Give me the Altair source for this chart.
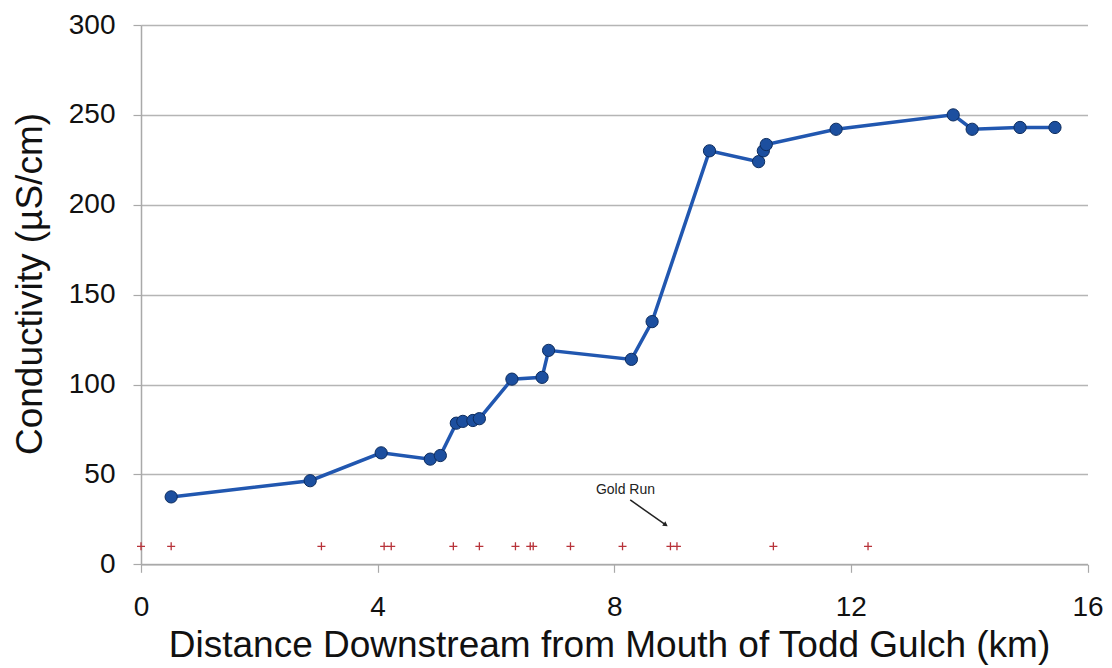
import altair as alt
import pandas as pd

# Conductivity profile (blue line with markers)
dist_km = [0.51, 2.86, 4.06, 4.89, 5.06, 5.33, 5.44, 5.61, 5.72, 6.27, 6.78, 6.89,
           8.29, 8.64, 9.61, 10.44, 10.52, 10.57, 11.75, 13.73, 14.05, 14.86, 15.45]
conductivity = [37.5, 46.5, 62, 58.5, 60.5, 78.5, 79.5, 80, 81, 103, 104, 119,
                114, 135, 230, 224, 230, 233.5, 242, 250, 242, 243, 243]

# Sampling sites (red plus markers)
site_km = [0.0, 0.51, 3.05, 4.11, 4.23, 5.28, 5.72, 6.33, 6.58, 6.63, 7.26, 8.14,
           8.95, 9.06, 10.69, 12.29]
site_level = [10, 10, 10, 10, 10, 10, 10, 10, 10, 10, 10, 10, 10, 10, 10, 10]

# Annotation
note_text = ["Gold Run"]
note_x = [8.19]
note_y = [41.3]
arrow_x = [8.27]
arrow_y = [35.8]
arrow_x2 = [8.87]
arrow_y2 = [21.9]

x_ticks = [0, 4, 8, 12, 16]
y_ticks = [0, 50, 100, 150, 200, 250, 300]

FONT = "Liberation Sans"
GRAY = "#a9a9a9"

profile = pd.DataFrame({"x": dist_km, "y": conductivity})
sites = pd.DataFrame({"x": site_km, "y": site_level})
note = pd.DataFrame({"x": note_x, "y": note_y, "t": note_text})
arrow = pd.DataFrame({"x": arrow_x, "y": arrow_y, "x2": arrow_x2, "y2": arrow_y2})
head = pd.DataFrame({"x": arrow_x2, "y": arrow_y2})

x_enc = alt.X(
    "x:Q",
    scale=alt.Scale(domain=[0, 16], nice=False, zero=False),
    axis=alt.Axis(
        values=x_ticks, grid=False, tickSize=8, tickColor=GRAY, tickWidth=1.2,
        domainColor=GRAY, domainWidth=1.5,
        labelFontSize=28, labelFont=FONT, labelColor="#111111", labelPadding=21,
        labelFlush=False,
        title="Distance Downstream from Mouth of Todd Gulch (km)",
        titleFont=FONT, titleFontSize=37, titleFontWeight="normal", titleColor="#111111",
        titleX=468, titleY=92.4, titleBaseline="alphabetic", titleAlign="center",
    ),
)
y_enc = alt.Y(
    "y:Q",
    scale=alt.Scale(domain=[0, 300], nice=False),
    axis=alt.Axis(
        values=y_ticks, grid=True, gridColor="#b5b5b5", gridWidth=1.5,
        tickSize=8, tickColor=GRAY, tickWidth=1.2,
        domainColor=GRAY, domainWidth=1.5,
        labelFontSize=28, labelFont=FONT, labelColor="#111111", labelPadding=18,
        labelFlush=False,
        title="Conductivity (µS/cm)",
        titleFont=FONT, titleFontSize=37, titleFontWeight="normal", titleColor="#111111",
        titleAngle=270, titleX=-99.5, titleY=258.5, titleBaseline="alphabetic",
        titleAlign="center",
    ),
)

line = alt.Chart(profile).mark_line(color="#2157b0", strokeWidth=3.5).encode(x=x_enc, y=y_enc)
dots = alt.Chart(profile).mark_point(
    shape="circle", filled=True, size=150, fill="#1c4f9f", stroke="#0e2d5e",
    strokeWidth=1, opacity=1,
).encode(x=x_enc, y=y_enc)

plus = alt.Chart(sites).mark_point(
    shape="M-1,0L1,0M0,-1L0,1", size=64, filled=False, stroke="#b8333a",
    strokeWidth=1.3, opacity=1,
).encode(x=x_enc, y=y_enc)

label = alt.Chart(note).mark_text(
    font=FONT, fontSize=14, color="#222222", align="center", baseline="middle",
).encode(x=x_enc, y=y_enc, text="t:N")

arrow_line = alt.Chart(arrow).mark_rule(color="#222222", strokeWidth=1.5).encode(
    x=x_enc, y=y_enc, x2="x2:Q", y2="y2:Q"
)
arrow_head = alt.Chart(head).mark_point(
    shape="triangle-up", filled=True, size=30, color="#222222", angle=125, opacity=1,
).encode(x=x_enc, y=y_enc)

chart = alt.layer(line, dots, plus, label, arrow_line, arrow_head).properties(
    width=946.5,
    height=539.3,
    autosize=alt.AutoSizeParams(type="none"),
    padding={"left": 141, "top": 25, "right": 24.5, "bottom": 103.7},
    background="white",
).configure_view(strokeWidth=0)

chart.save("out.html", embed_options={"renderer": "svg", "actions": False})
